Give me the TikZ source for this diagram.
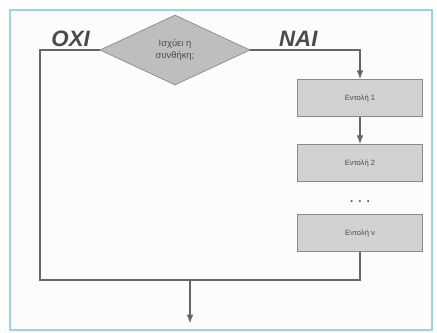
\documentclass[tikz,border=0pt]{standalone}
\usepackage{fontspec}
\setmainfont{Liberation Sans}
\usepackage{xcolor}
\usetikzlibrary{positioning,arrows.meta,shapes.geometric}

\definecolor{framecol}{HTML}{9BD3E3}
\definecolor{linecol}{HTML}{666666}
\definecolor{boxfill}{HTML}{D2D2D2}
\definecolor{boxline}{HTML}{8A8A8A}
\definecolor{condfill}{HTML}{BEBEBE}
\definecolor{txtcol}{HTML}{4A4A4A}

\begin{document}
\begin{tikzpicture}[>={Latex[length=2.6mm,width=2mm]},
  flow/.style={draw=linecol,line width=0.9pt},
  stmt/.style={draw=boxline,fill=boxfill,line width=0.8pt,minimum width=3.75cm,
               minimum height=1.11cm,font=\fontsize{6.5}{8}\selectfont,text=txtcol},
  answer/.style={font=\fontsize{19}{19}\selectfont\bfseries\itshape,text=txtcol}]

  % frame
  \useasboundingbox (0,0) rectangle (13.11,9.96);
  \draw[framecol,line width=1.2pt,fill=black!1] (0.3,0.06) rectangle (12.96,9.66);

  % condition
  \node[diamond,draw=boxline,fill=condfill,line width=0.6pt,minimum width=4.5cm,
        minimum height=2.1cm,inner sep=0pt,align=center,
        font=\fontsize{8}{9.5}\selectfont,text=txtcol] (cond) at (5.25,8.46)
        {Ισχύει η\\συνθήκη;};
  \node[answer] (no) at (2.12,8.8) {ΟΧΙ};
  \node[answer] (yes) at (8.95,8.8) {ΝΑΙ};

  % statements
  \node[stmt] (box1) at (10.8,7.02) {Εντολή 1};
  \node[stmt] (box2) at (10.8,5.07) {Εντολή 2};
  \node[font=\fontsize{10}{10}\selectfont\bfseries,text=txtcol] (dots) at (10.8,3.92)
        {.\hspace{0.8ex}.\hspace{0.8ex}.};
  \node[stmt] (boxv) at (10.8,2.97) {Εντολή ν};

  % connectors
  \coordinate (corner) at (1.2,1.56);
  \coordinate (merge) at (5.7,1.56);
  \coordinate (exit) at (5.7,0.26);
  \draw[flow,->] (cond.east) -| (box1.north);
  \draw[flow,->] (box1) -- (box2);
  \draw[flow] (cond.west) -| (corner) -| (boxv.south);
  \draw[flow,->] (merge) -- (exit);

\end{tikzpicture}
\end{document}
